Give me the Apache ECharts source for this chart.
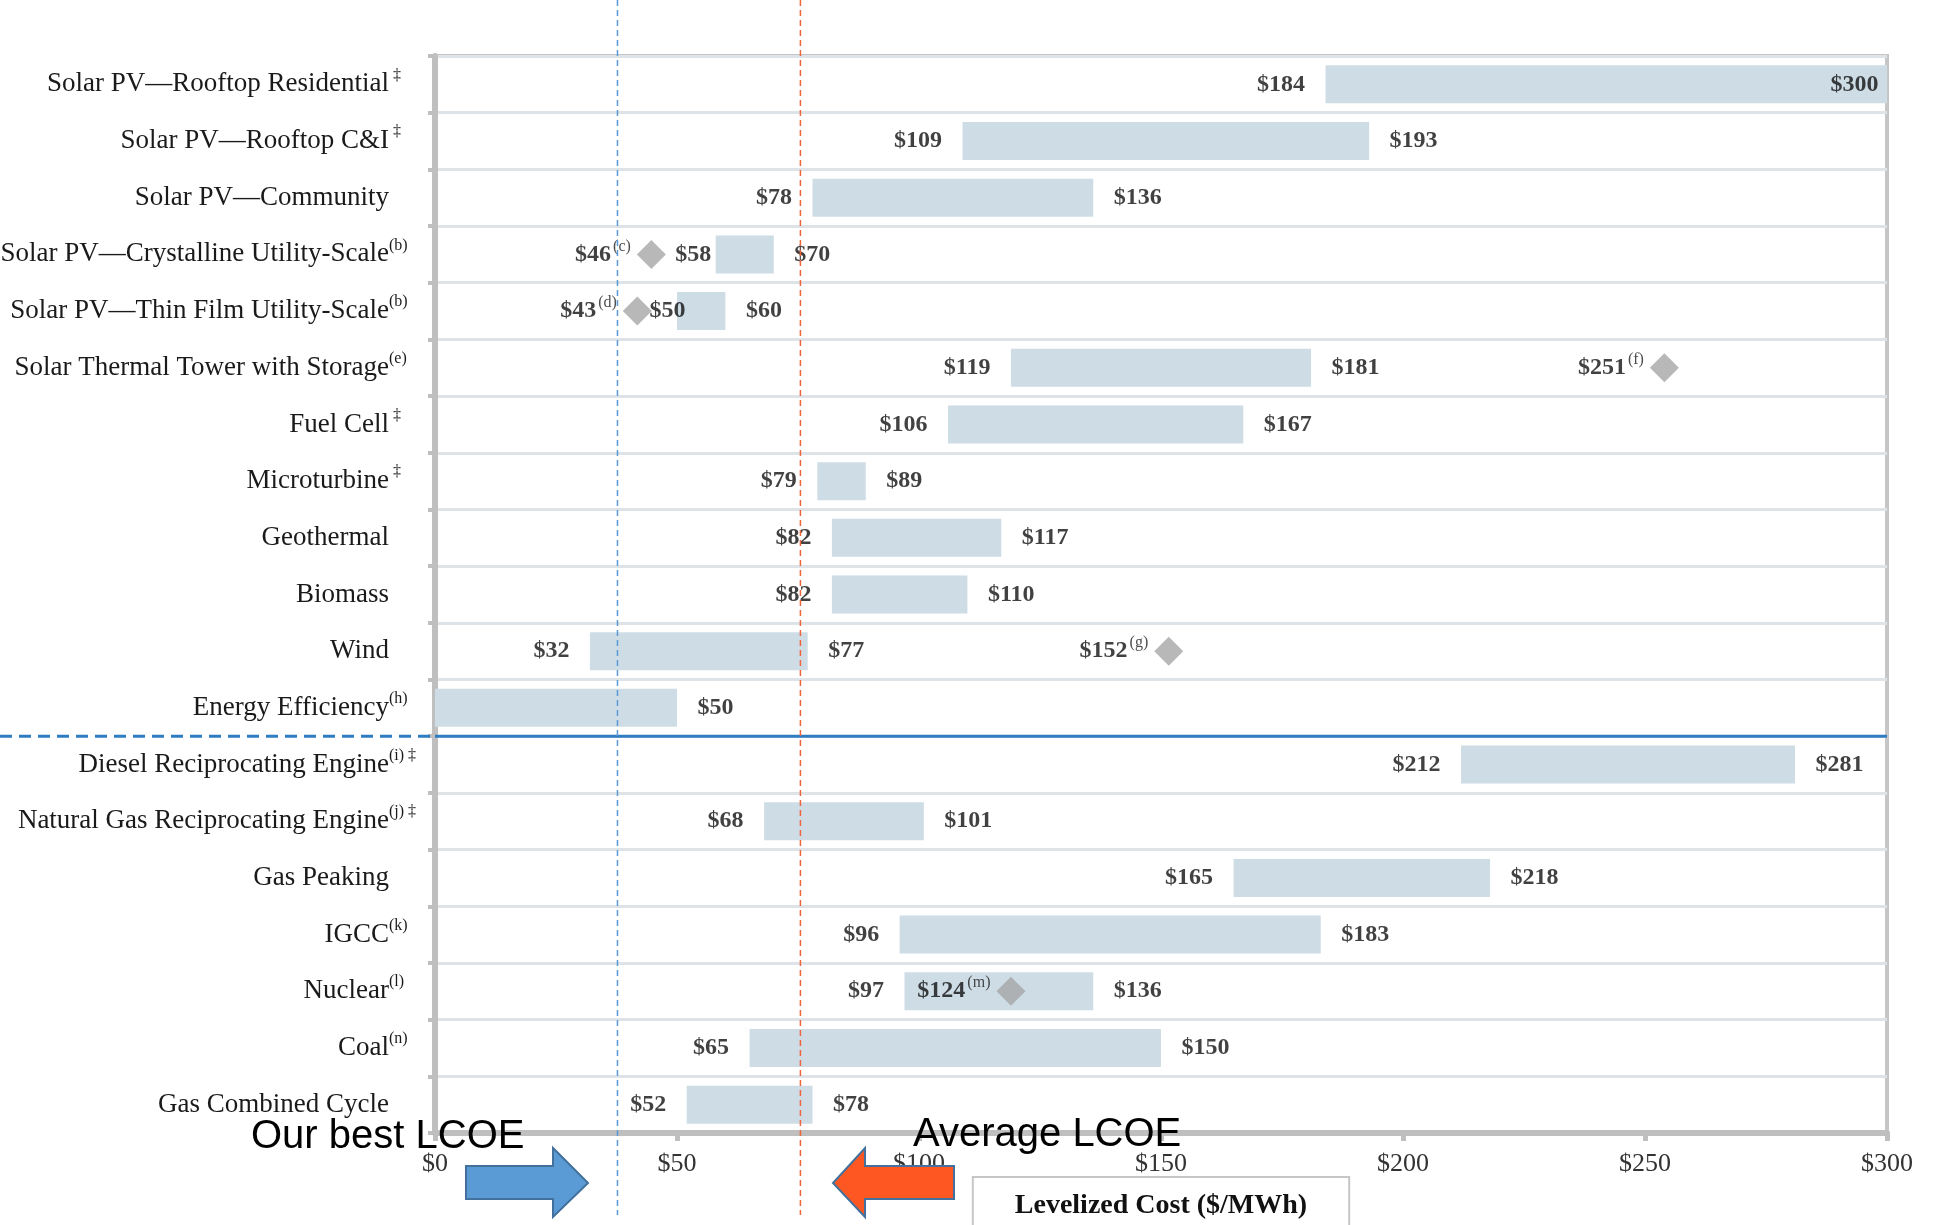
<!DOCTYPE html>
<html>
<head>
<meta charset="utf-8">
<title>Levelized Cost of Energy</title>
<script src="https://cdn.jsdelivr.net/npm/echarts@6/dist/echarts.min.js"></script>
<style>
  html, body { margin: 0; padding: 0; background: #fff; }
  #chart { width: 1938px; height: 1225px; }
</style>
</head>
<body>
<div id="chart"></div>
<script>
// technologies, top to bottom
var categories = [
  "Solar PV\u2014Rooftop Residential",
  "Solar PV\u2014Rooftop C&I",
  "Solar PV\u2014Community",
  "Solar PV\u2014Crystalline Utility-Scale",
  "Solar PV\u2014Thin Film Utility-Scale",
  "Solar Thermal Tower with Storage",
  "Fuel Cell",
  "Microturbine",
  "Geothermal",
  "Biomass",
  "Wind",
  "Energy Efficiency",
  "Diesel Reciprocating Engine",
  "Natural Gas Reciprocating Engine",
  "Gas Peaking",
  "IGCC",
  "Nuclear",
  "Coal",
  "Gas Combined Cycle"
];
// footnote marks shown after each name
var categoryNotes = [" \u2021", " \u2021", "", "(b)", "(b)", "(e)", " \u2021", " \u2021", "", "", "", "(h)",
  "(i) \u2021", "(j) \u2021", "", "(k)", "(l)", "(n)", ""];

// range low / high ($/MWh)
var lowValues = [184, 109, 78, 58, 50, 119, 106, 79, 82, 82, 32, 0, 212, 68, 165, 96, 97, 65, 52];
var highValues = [300, 193, 136, 70, 60, 181, 167, 89, 117, 110, 77, 50, 281, 101, 218, 183, 136, 150, 78];

// single-point estimates (diamonds)
var diamondRows = [3, 4, 5, 10, 16];
var diamondValues = [44.7, 41.8, 254, 151.6, 119];
var diamondLabels = ["$46", "$43", "$251", "$152", "$124"];
var diamondNotes = ["(c)", "(d)", "(f)", "(g)", "(m)"];

// x axis
var xMin = 0;
var xMax = 300;
var xStep = 50;

// reference lines
var bestLcoe = 37.7;
var averageLcoe = 75.5;

var serif = '"Liberation Serif", "Times New Roman", serif';
var sans = '"Liberation Sans", Arial, sans-serif';

var chart = echarts.init(document.getElementById("chart"));

var rangeData = highValues.map(function (h, i) { return h - lowValues[i]; });

// footnotes hang to the right of the names: give each one the same slot width
var noteSize = 16;
var noteSlot = 32;
var measureCtx = document.createElement("canvas").getContext("2d");
measureCtx.font = noteSize + "px " + serif;
var categoryRich = {
  b: { fontFamily: serif, fontSize: 27, lineHeight: 34, color: "#1a1a1a" }
};
categoryNotes.forEach(function (note, i) {
  var w = measureCtx.measureText(note || " ").width;
  categoryRich["s" + i] = {
    fontFamily: serif, fontSize: noteSize, lineHeight: 18, color: "#1a1a1a",
    verticalAlign: "top", padding: [0, Math.max(0, noteSlot - w), 0, 0]
  };
});

var lowLabelData = [];
lowValues.forEach(function (v, i) {
  if (v === 0) return;
  var item = { value: [v, i] };
  // a couple of labels sit closer to / over the bar in the original
  if (i === 3) item.label = { distance: 4 };
  if (i === 4) item.label = { offset: [29, 0] };
  lowLabelData.push(item);
});

var highLabelData = highValues.map(function (v, i) {
  var item = { value: [v, i] };
  if (i === 0) item.label = { position: "left", distance: 8 };
  return item;
});

var diamondData = diamondRows.map(function (r, k) {
  return { value: [diamondValues[k], r], name: diamondLabels[k], note: diamondNotes[k] };
});

var valueLabel = {
  show: true,
  fontFamily: serif,
  fontWeight: "bold",
  fontSize: 24,
  color: "#111"
};

var option = {
  backgroundColor: "#fff",
  animation: false,
  grid: {
    left: 435,
    right: 51,
    top: 56,
    bottom: 92,
    containLabel: false,
    outerBoundsMode: "none",
    show: true,
    borderColor: "#C6C6C6",
    borderWidth: 4
  },
  xAxis: {
    type: "value",
    min: xMin,
    max: xMax,
    interval: xStep,
    axisLine: { show: true, lineStyle: { color: "#BFBFBF", width: 6 } },
    axisTick: { show: true, length: 8, lineStyle: { color: "#BFBFBF", width: 5 } },
    splitLine: { show: false },
    axisLabel: {
      formatter: "${value}",
      fontFamily: serif,
      fontSize: 26,
      color: "#333",
      margin: 18
    },
    name: "Levelized Cost ($/MWh)",
    nameLocation: "middle",
    nameGap: 45,
    nameMoveOverlap: false,
    nameTextStyle: {
      fontFamily: serif,
      fontWeight: "bold",
      fontSize: 28,
      color: "#111",
      verticalAlign: "top",
      borderColor: "#C6C6C6",
      borderWidth: 2,
      backgroundColor: "#fff",
      padding: [14, 41, 12, 41]
    }
  },
  yAxis: {
    type: "category",
    inverse: true,
    data: categories,
    axisLine: { show: true, lineStyle: { color: "#BFBFBF", width: 6 } },
    axisTick: { show: true, length: 7, interval: 0, lineStyle: { color: "#BFBFBF", width: 4 } },
    splitLine: { show: true, interval: 0, lineStyle: { color: "#DDE3E6", width: 3 } },
    axisLabel: {
      interval: 0,
      margin: 14,
      formatter: function (value, index) {
        return "{b|" + value + "}{s" + index + "|" + (categoryNotes[index] || " ") + "}";
      },
      rich: categoryRich
    }
  },
  series: [
    {
      name: "base",
      type: "bar",
      stack: "range",
      silent: true,
      barWidth: 38,
      itemStyle: { color: "transparent" },
      data: lowValues
    },
    {
      name: "range",
      type: "bar",
      stack: "range",
      barWidth: 38,
      itemStyle: { color: "#CEDCE6" },
      data: rangeData
    },
    {
      name: "diamonds",
      type: "scatter",
      symbol: "diamond",
      symbolSize: 29,
      z: 4,
      itemStyle: { color: "#A6A6A6" },
      label: {
        show: true,
        position: "left",
        distance: 6,
        formatter: function (p) {
          return "{v|" + p.data.name + "}{s|" + p.data.note + "}";
        },
        rich: {
          v: { fontFamily: serif, fontWeight: "bold", fontSize: 24, lineHeight: 32, color: "#111" },
          s: { fontFamily: serif, fontSize: 16, lineHeight: 16, color: "#222",
               verticalAlign: "top", padding: [0, 0, 0, 2] }
        }
      },
      data: diamondData
    },
    {
      name: "lowLabels",
      type: "scatter",
      symbolSize: 1,
      z: 5,
      itemStyle: { color: "transparent" },
      label: Object.assign({ position: "left", distance: 20, formatter: function (p) { return "$" + p.value[0]; } }, valueLabel),
      data: lowLabelData
    },
    {
      name: "highLabels",
      type: "scatter",
      symbolSize: 1,
      z: 5,
      itemStyle: { color: "transparent" },
      label: Object.assign({ position: "right", distance: 20, formatter: function (p) { return "$" + p.value[0]; } }, valueLabel),
      data: highLabelData
    }
  ]
};

chart.setOption(option);

// reference lines and annotations
var xLeft = chart.convertToPixel({ xAxisIndex: 0 }, xMin);
var xRight = chart.convertToPixel({ xAxisIndex: 0 }, xMax);
var xBest = chart.convertToPixel({ xAxisIndex: 0 }, bestLcoe);
var xAvg = chart.convertToPixel({ xAxisIndex: 0 }, averageLcoe);
var ySplit = (chart.convertToPixel({ yAxisIndex: 0 }, 11) + chart.convertToPixel({ yAxisIndex: 0 }, 12)) / 2;

chart.setOption({
  graphic: [
    {
      type: "line", z: 50, silent: true,
      shape: { x1: 0, y1: ySplit, x2: xLeft, y2: ySplit },
      style: { stroke: "#2E7DC2", lineWidth: 3, lineDash: [12, 7] }
    },
    {
      type: "line", z: 50, silent: true,
      shape: { x1: xLeft, y1: ySplit, x2: xRight, y2: ySplit },
      style: { stroke: "#2E7DC2", lineWidth: 3 }
    },
    {
      type: "line", z: 60, silent: true,
      shape: { x1: xBest, y1: 0, x2: xBest, y2: 1215 },
      style: { stroke: "#5B9BD5", lineWidth: 1.5, lineDash: [6, 4] }
    },
    {
      type: "line", z: 60, silent: true,
      shape: { x1: xAvg, y1: 0, x2: xAvg, y2: 1215 },
      style: { stroke: "#F0643C", lineWidth: 1.5, lineDash: [6, 4] }
    },
    {
      type: "polygon", z: 70, silent: true,
      shape: { points: [[466, 1166], [553, 1166], [553, 1148], [588, 1183], [553, 1217], [553, 1199], [466, 1199]] },
      style: { fill: "#5B9BD5", stroke: "#41719C", lineWidth: 2 }
    },
    {
      type: "polygon", z: 70, silent: true,
      shape: { points: [[954, 1166], [865, 1166], [865, 1148], [833, 1183], [865, 1217], [865, 1199], [954, 1199]] },
      style: { fill: "#FF5722", stroke: "#41719C", lineWidth: 2 }
    },
    {
      type: "text", z: 80, silent: true,
      x: 251, y: 1137,
      style: { text: "Our best LCOE", font: "40px " + sans, fill: "#000", verticalAlign: "middle", align: "left" }
    },
    {
      type: "text", z: 80, silent: true,
      x: 913, y: 1135,
      style: { text: "Average LCOE", font: "40px " + sans, fill: "#000", verticalAlign: "middle", align: "left" }
    }
  ]
});
</script>
</body>
</html>
